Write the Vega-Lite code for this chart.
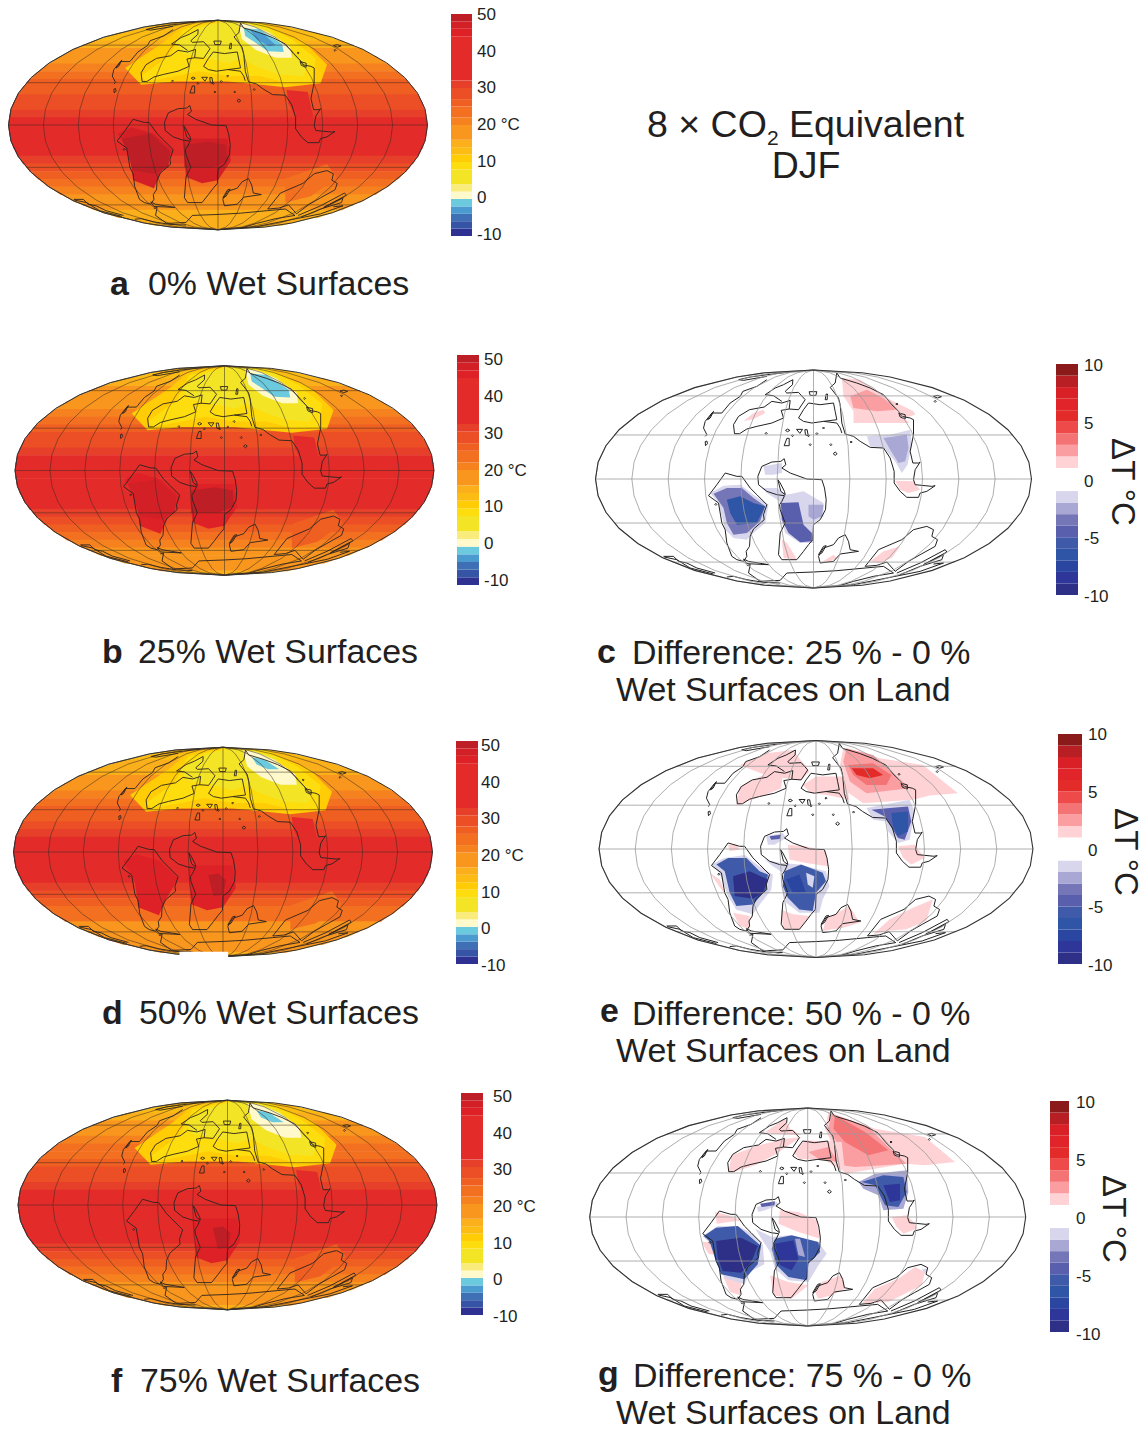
{"$schema":"https://vega.github.io/schema/vega-lite/v6.json","width":1143,"height":1430,"padding":0,"autosize":{"type":"fit","contains":"padding"},"background":"white",
"config":{"view":{"stroke":null},"axis":{"disable":true},"legend":{"disable":true},"font":"Liberation Sans","text":{"align":"left","baseline":"middle","color":"#231F20","fontSize":17},"geoshape":{"strokeWidth":0}},
"resolve":{"scale":{"x":"independent","y":"independent"}},
"datasets":{
"bands":[
{"a":13,"b":13,"d":13,"f":13,"g":{"type":"Polygon","coordinates":[[[670,31],[805,38],[866,46],[866,48],[474,48],[474,46],[535,38],[670,31]]]}},
{"a":13,"b":13,"d":13,"f":13,"g":{"type":"Polygon","coordinates":[[[474,46],[866,46],[980,72],[360,72],[474,46]]]}},
{"a":13,"b":15,"d":15,"f":15,"g":{"type":"Polygon","coordinates":[[[360,70],[980,70],[1056,96],[284,96],[360,70]]]}},
{"a":15,"b":16,"d":15,"f":16,"g":{"type":"Polygon","coordinates":[[[284,94],[1056,94],[1114,120],[226,120],[284,94]]]}},
{"a":16,"b":18,"d":17,"f":18,"g":{"type":"Polygon","coordinates":[[[226,118],[1114,118],[1161,144],[179,144],[226,118]]]}},
{"a":19,"b":19,"d":19,"f":21,"g":{"type":"Polygon","coordinates":[[[179,142],[1161,142],[1199,168],[141,168],[179,142]]]}},
{"a":21,"b":21,"d":21,"f":23,"g":{"type":"Polygon","coordinates":[[[141,166],[1199,166],[1231,192],[109,192],[141,166]]]}},
{"a":23,"b":24,"d":23,"f":24,"g":{"type":"Polygon","coordinates":[[[109,190],[1231,190],[1257,216],[83,216],[109,190]]]}},
{"a":26,"b":26,"d":26,"f":26,"g":{"type":"Polygon","coordinates":[[[83,214],[1257,214],[1278,240],[62,240],[83,214]]]}},
{"a":26,"b":28,"d":26,"f":28,"g":{"type":"Polygon","coordinates":[[[62,238],[1278,238],[1295,264],[45,264],[62,238]]]}},
{"a":28,"b":28,"d":28,"f":28,"g":{"type":"Polygon","coordinates":[[[45,262],[1295,262],[1308,288],[32,288],[45,262]]]}},
{"a":28,"b":31,"d":31,"f":31,"g":{"type":"Polygon","coordinates":[[[32,286],[1308,286],[1317,312],[23,312],[32,286]]]}},
{"a":31,"b":33,"d":33,"f":33,"g":{"type":"Polygon","coordinates":[[[23,310],[1317,310],[1322,336],[18,336],[23,310]]]}},
{"a":33,"b":35,"d":35,"f":35,"g":{"type":"Polygon","coordinates":[[[18,334],[1322,334],[1324,360],[16,360],[18,334]]]}},
{"a":35,"b":35,"d":35,"f":35,"g":{"type":"Polygon","coordinates":[[[16,358],[1324,358],[1322,384],[18,384],[16,358]]]}},
{"a":35,"b":35,"d":35,"f":35,"g":{"type":"Polygon","coordinates":[[[18,382],[1322,382],[1317,408],[23,408],[18,382]]]}},
{"a":35,"b":35,"d":35,"f":35,"g":{"type":"Polygon","coordinates":[[[23,406],[1317,406],[1308,432],[32,432],[23,406]]]}},
{"a":33,"b":35,"d":33,"f":35,"g":{"type":"Polygon","coordinates":[[[32,430],[1308,430],[1295,456],[45,456],[32,430]]]}},
{"a":31,"b":33,"d":31,"f":33,"g":{"type":"Polygon","coordinates":[[[45,454],[1295,454],[1278,480],[62,480],[45,454]]]}},
{"a":28,"b":31,"d":28,"f":31,"g":{"type":"Polygon","coordinates":[[[62,478],[1278,478],[1257,504],[83,504],[62,478]]]}},
{"a":26,"b":28,"d":26,"f":28,"g":{"type":"Polygon","coordinates":[[[83,502],[1257,502],[1231,528],[109,528],[83,502]]]}},
{"a":24,"b":26,"d":24,"f":26,"g":{"type":"Polygon","coordinates":[[[109,526],[1231,526],[1199,552],[141,552],[109,526]]]}},
{"a":21,"b":24,"d":23,"f":24,"g":{"type":"Polygon","coordinates":[[[141,550],[1199,550],[1161,576],[179,576],[141,550]]]}},
{"a":18,"b":21,"d":19,"f":21,"g":{"type":"Polygon","coordinates":[[[179,574],[1161,574],[1114,600],[226,600],[179,574]]]}},
{"a":16,"b":18,"d":18,"f":18,"g":{"type":"Polygon","coordinates":[[[226,598],[1114,598],[1056,624],[284,624],[226,598]]]}},
{"a":15,"b":16,"d":16,"f":16,"g":{"type":"Polygon","coordinates":[[[284,622],[1056,622],[980,648],[360,648],[284,622]]]}},
{"a":15,"b":16,"d":16,"f":16,"g":{"type":"Polygon","coordinates":[[[360,646],[980,646],[866,672],[474,672],[360,646]]]}},
{"a":15,"b":15,"d":15,"f":15,"g":{"type":"Polygon","coordinates":[[[474,670],[866,670],[805,678],[670,685],[535,678],[474,670]]]}}
],
"blobs":[
{"a":24,"b":26,"d":24,"f":26,"g":{"type":"Polygon","coordinates":[[[880,525],[1010,480],[1040,520],[960,580],[880,600],[880,525]]]}},
{"a":46,"b":45,"d":45,"g":{"type":"Polygon","coordinates":[[[358,385],[400,365],[470,385],[530,440],[490,510],[470,555],[405,530],[395,450],[358,385]]]}},
{"a":46,"b":45,"d":45,"f":45,"g":{"type":"Polygon","coordinates":[[[560,400],[700,400],[710,470],[670,530],[620,540],[570,520],[560,400]]]}},
{"a":49,"b":47,"g":{"type":"Polygon","coordinates":[[[370,400],[460,385],[520,440],[515,490],[470,510],[405,500],[385,440],[370,400]]]}},
{"a":49,"b":49,"g":{"type":"Polygon","coordinates":[[[565,420],[640,410],[695,420],[700,470],[650,490],[565,490],[565,420]]]}},
{"d":48,"f":48,"g":{"type":"Polygon","coordinates":[[[624,430],[655,425],[680,445],[671,492],[640,495],[624,430]]]}},
{"a":33,"b":35,"d":33,"f":35,"g":{"type":"Polygon","coordinates":[[[884,249],[950,255],[967,332],[920,345],[890,290],[884,249]]]}},
{"a":11,"b":11,"d":11,"f":11,"g":{"type":"Polygon","coordinates":[[[380,180],[500,100],[560,50],[670,32],[810,42],[940,100],[1010,170],[990,228],[880,240],[700,222],[540,222],[430,232],[380,180]]]}},
{"a":9,"b":9,"d":9,"f":9,"g":{"type":"Polygon","coordinates":[[[430,205],[520,140],[560,60],[680,33],[800,40],[900,90],[975,150],[965,222],[880,225],[800,205],[700,205],[610,190],[540,205],[445,222],[430,205]]]}},
{"a":6,"b":6,"d":6,"f":6,"g":{"type":"Polygon","coordinates":[[[535,100],[610,55],[690,34],[760,40],[830,60],[880,110],[950,170],[935,205],[860,200],[790,175],[740,150],[700,165],[640,150],[560,135],[535,100]]]}},
{"a":1,"b":1,"d":1,"f":1,"g":{"type":"Polygon","coordinates":[[[733,41],[770,45],[830,70],[895,115],[900,148],[850,148],[790,125],[745,90],[733,41]]]}},
{"a":-1,"b":-1,"g":{"type":"Polygon","coordinates":[[[750,55],[800,60],[870,105],[875,130],[825,128],[785,100],[755,80],[750,55]]]}},
{"d":-1,"f":-1,"g":{"type":"Polygon","coordinates":[[[760,62],[800,70],[845,100],[810,100],[775,85],[760,62]]]}},
{"a":-3,"g":{"type":"Polygon","coordinates":[[[770,62],[810,72],[850,108],[830,112],[790,90],[770,62]]]}}
],
"coast":[
{"n":"west","g":{"type":"MultiLineString","coordinates":[[[405,340],[440,350],[455,350],[480,385],[500,405],[530,435],[520,465],[522,480],[490,508],[480,530],[478,560],[468,575],[470,590],[460,605],[440,600],[425,590],[410,550],[405,510],[395,490],[385,430],[355,408],[380,375],[405,340]]]}},
{"n":"central","g":{"type":"MultiLineString","coordinates":[[[503,350],[515,320],[545,307],[572,305],[582,297],[587,315],[575,325],[600,340],[650,358],[695,360],[703,385],[708,420],[706,450],[690,480],[670,495],[668,540],[655,555],[640,575],[620,600],[575,600],[565,585],[570,520],[585,490],[570,450],[568,435],[575,425],[583,408],[560,405],[530,395],[505,375],[503,350]],[[563,360],[572,395],[585,405],[583,395],[570,370],[563,360]]]}},
{"n":"north","g":{"type":"MultiLineString","coordinates":[[[433,222],[430,195],[445,170],[478,150],[522,142],[545,125],[575,130],[600,122],[597,148],[573,152],[580,175],[545,190],[500,200],[470,208],[448,222],[433,222]],[[575,125],[550,108],[525,105],[555,85],[580,75],[608,60],[607,75],[585,95],[590,100],[625,98],[645,120],[625,150],[597,148]],[[625,175],[640,150],[655,130],[690,135],[730,130],[735,155],[740,180],[700,185],[665,190],[640,185],[625,175]],[[700,185],[740,190],[750,205],[755,220]]]}},
{"n":"east","g":{"type":"MultiLineString","coordinates":[[[740,40],[750,55],[800,70],[840,85],[880,105],[905,135],[925,155],[935,170],[960,175],[970,180],[970,225],[960,275],[968,310],[985,310],[990,307],[975,330],[970,360],[975,375],[1025,380],[1035,378],[1010,395],[990,400],[985,413],[950,413],[930,395],[912,370],[912,335],[900,295],[880,265],[840,263],[810,245],[790,230],[765,223],[755,190],[750,135],[745,115],[720,83],[735,70],[740,40]]]}},
{"n":"strip","g":{"type":"MultiLineString","coordinates":[[[345,230],[350,225],[340,205],[345,185],[365,160],[395,160],[420,130],[450,110],[458,95],[500,80],[530,60]],[[352,180],[370,155],[360,175],[352,180]],[[445,60],[480,52],[530,45],[600,37]],[[447,60],[460,62],[530,50]]]}},
{"n":"south","g":{"type":"MultiLineString","coordinates":[[[220,590],[250,590],[265,605],[290,610],[320,625],[375,640]],[[222,592],[260,600],[300,625],[370,643]],[[410,652],[430,650],[470,660],[520,668],[570,670]],[[460,598],[475,605],[505,610],[535,615],[470,612],[460,598]],[[470,618],[480,615],[475,640],[510,665],[570,662],[590,640],[670,637],[740,633],[825,625],[880,620],[910,640],[850,650],[790,665],[740,680]],[[825,620],[865,570],[935,540],[970,510],[1010,500],[1030,510],[1025,530],[1042,540],[1035,560],[990,585],[955,605],[915,635],[890,607],[860,617],[825,620]],[[920,640],[990,610],[1065,570],[1070,577],[1000,615],[1060,585],[1055,600],[990,620],[930,645]],[[1030,613],[1060,610],[990,635],[790,675],[680,683]],[[690,610],[685,590],[700,565],[730,555],[745,535],[765,525],[775,545],[780,570],[805,575],[750,583],[730,605],[690,610]],[[685,585],[700,560],[708,558],[695,580],[685,585]]]}},
{"n":"islands","g":{"type":"MultiLineString","coordinates":[[[586,212],[592,208],[599,212],[592,216],[586,212]],[[619,209],[637,209],[629,221],[619,209]],[[644,210],[651,210],[654,228],[646,226],[644,210]],[[604,228],[607,225],[610,228],[607,231],[604,228]],[[582,258],[590,236],[597,236],[597,258],[582,258]],[[652,228],[655,225],[658,228],[655,231],[652,228]],[[657,255],[660,252],[663,255],[660,258],[657,255]],[[677,222],[680,219],[683,222],[680,225],[677,222]],[[697,205],[700,202],[703,205],[700,208],[697,205]],[[719,255],[722,252],[725,255],[722,258],[719,255]],[[729,282],[735,277],[741,282],[735,287],[729,282]],[[525,221],[528,218],[531,221],[528,224],[525,221]],[[374,434],[377,431],[380,434],[377,437],[374,434]],[[345,246],[350,244],[352,252],[346,258],[345,246]],[[657,96],[680,96],[677,107],[660,107],[657,96]],[[705,120],[708,103],[712,103],[711,120],[705,120]],[[1030,110],[1042,107],[1054,111],[1042,115],[1030,110]],[[1032,125],[1035,122],[1038,125],[1035,128],[1032,125]],[[780,247],[783,244],[786,247],[783,250],[780,247]],[[917,133],[920,130],[923,133],[920,136],[917,133]],[[926,160],[945,165],[945,178],[930,172],[926,160]]]}}
],
"dc":[
{"v":1.5,"g":{"type":"Polygon","coordinates":[[[755,55],[810,60],[890,115],[970,155],[975,165],[940,175],[960,190],[790,190],[790,155],[760,110],[755,55]]]}},
{"v":2.5,"g":{"type":"Polygon","coordinates":[[[780,110],[830,90],[880,115],[920,150],[860,155],[790,145],[780,110]]]}},
{"v":-1.5,"g":{"type":"Polygon","coordinates":[[[830,230],[900,225],[960,210],[965,255],[952,315],[935,340],[915,305],[880,265],[840,260],[830,230]]]}},
{"v":-2.5,"g":{"type":"Polygon","coordinates":[[[880,235],[950,225],[955,265],[945,305],[925,310],[900,270],[880,235]]]}},
{"v":1.5,"g":{"type":"Polygon","coordinates":[[[915,363],[970,365],[990,390],[955,400],[930,390],[915,363]]]}},
{"v":1.5,"g":{"type":"Polygon","coordinates":[[[840,605],[880,575],[930,560],[905,595],[865,610],[840,605]]]}},
{"v":1.5,"g":{"type":"Polygon","coordinates":[[[460,185],[490,160],[520,150],[525,160],[490,178],[460,185]]]}},
{"v":1.5,"g":{"type":"Polygon","coordinates":[[[575,540],[590,550],[615,590],[620,600],[580,595],[575,540]]]}},
{"v":1.5,"g":{"type":"Polygon","coordinates":[[[690,610],[730,585],[740,595],[710,610],[690,610]]]}},
{"v":-1.5,"g":{"type":"Polygon","coordinates":[[[360,400],[400,378],[450,375],[490,405],[535,435],[525,490],[490,520],[470,540],[430,535],[405,510],[395,470],[385,430],[360,400]]]}},
{"v":-3.5,"g":{"type":"Polygon","coordinates":[[[370,402],[410,385],[455,385],[490,415],[525,440],[510,485],[470,520],[430,525],[410,490],[400,445],[370,402]]]}},
{"v":-6.5,"g":{"type":"Polygon","coordinates":[[[410,420],[450,410],[490,430],[525,440],[500,490],[440,495],[420,460],[410,420]]]}},
{"v":-1.5,"g":{"type":"Polygon","coordinates":[[[515,385],[560,385],[590,405],[640,395],[700,430],[700,470],[670,490],[670,550],[630,550],[585,520],[570,470],[568,425],[530,400],[515,385]]]}},
{"v":-4.5,"g":{"type":"Polygon","coordinates":[[[572,430],[625,428],[640,495],[665,520],[665,545],[630,548],[595,520],[575,480],[572,430]]]}},
{"v":-3,"g":{"type":"Polygon","coordinates":[[[655,435],[700,435],[695,470],[670,480],[655,470],[655,435]]]}},
{"v":-1.5,"g":{"type":"Polygon","coordinates":[[[520,320],[575,310],[575,340],[550,345],[525,345],[520,320]]]}}
],
"de":[
{"v":1.5,"g":{"type":"Polygon","coordinates":[[[752,55],[862,85],[992,105],[1097,190],[1012,197],[962,210],[812,220],[762,185],[742,105],[752,55]]]}},
{"v":2.5,"g":{"type":"Polygon","coordinates":[[[762,55],[842,75],[887,115],[952,175],[822,190],[772,155],[752,95],[762,55]]]}},
{"v":3.5,"g":{"type":"Polygon","coordinates":[[[767,105],[842,100],[897,135],[882,165],[822,165],[782,135],[767,105]]]}},
{"v":5.5,"g":{"type":"Polygon","coordinates":[[[777,115],[842,115],[872,135],[832,145],[792,135],[777,115]]]}},
{"v":-2,"g":{"type":"Polygon","coordinates":[[[822,235],[952,210],[967,245],[952,330],[917,340],[887,305],[882,275],[842,270],[822,235]]]}},
{"v":-5,"g":{"type":"Polygon","coordinates":[[[837,240],[892,235],[947,230],[957,275],[937,330],[917,325],[892,285],[877,260],[837,240]]]}},
{"v":-7,"g":{"type":"Polygon","coordinates":[[[897,250],[947,245],[947,305],[917,320],[902,290],[897,250]]]}},
{"v":1.5,"g":{"type":"Polygon","coordinates":[[[917,350],[967,345],[997,385],[957,405],[932,385],[917,350]]]}},
{"v":1.5,"g":{"type":"Polygon","coordinates":[[[842,615],[892,570],[962,535],[1022,510],[1002,575],[942,600],[882,605],[842,615]]]}},
{"v":1.5,"g":{"type":"Polygon","coordinates":[[[690,605],[700,570],[770,530],[802,580],[752,595],[720,600],[690,605]]]}},
{"v":1.5,"g":{"type":"Polygon","coordinates":[[[430,226],[440,171],[510,136],[570,130],[565,176],[500,201],[430,226]]]}},
{"v":1.5,"g":{"type":"Polygon","coordinates":[[[440,105],[520,70],[600,60],[640,110],[650,125],[625,150],[530,140],[440,105]]]}},
{"v":1.5,"g":{"type":"Polygon","coordinates":[[[630,165],[670,140],[760,140],[770,210],[700,195],[655,190],[630,165]]]}},
{"v":1.5,"g":{"type":"Polygon","coordinates":[[[585,345],[640,350],[700,365],[705,410],[640,400],[590,390],[585,345]]]}},
{"v":1.5,"g":{"type":"Polygon","coordinates":[[[565,540],[600,555],[650,560],[620,600],[570,600],[565,540]]]}},
{"v":1.5,"g":{"type":"Polygon","coordinates":[[[420,550],[470,560],[470,600],[440,590],[420,550]]]}},
{"v":1.5,"g":{"type":"Polygon","coordinates":[[[350,430],[380,450],[400,500],[385,480],[350,430]]]}},
{"v":1.5,"g":{"type":"Polygon","coordinates":[[[405,345],[430,345],[440,360],[410,365],[405,345]]]}},
{"v":-1.5,"g":{"type":"Polygon","coordinates":[[[355,406],[390,386],[455,376],[500,411],[540,436],[535,481],[500,526],[480,555],[430,541],[405,501],[380,431],[355,406]]]}},
{"v":-5.5,"g":{"type":"Polygon","coordinates":[[[370,405],[405,385],[460,385],[500,425],[525,435],[520,480],[480,525],[430,530],[410,490],[395,425],[370,405]]]}},
{"v":-9.5,"g":{"type":"Polygon","coordinates":[[[420,440],[470,425],[525,450],[510,490],[480,508],[425,500],[420,440]]]}},
{"v":-1.5,"g":{"type":"Polygon","coordinates":[[[515,390],[565,400],[620,405],[700,425],[710,470],[690,510],[680,550],[620,550],[580,520],[565,470],[570,430],[540,410],[515,390]]]}},
{"v":-5.5,"g":{"type":"Polygon","coordinates":[[[575,425],[625,405],[690,430],[700,455],[670,490],[660,545],[620,540],[585,505],[570,470],[575,425]]]}},
{"v":-8,"g":{"type":"Polygon","coordinates":[[[580,450],[620,435],[640,490],[600,490],[580,450]]]}},
{"v":-2,"g":{"type":"Polygon","coordinates":[[[640,430],[665,440],[660,475],[645,465],[640,430]]]}},
{"v":-2,"g":{"type":"Polygon","coordinates":[[[520,320],[570,310],[580,325],[545,345],[525,345],[520,320]]]}},
{"v":-5,"g":{"type":"Polygon","coordinates":[[[530,320],[565,315],[560,328],[535,330],[530,320]]]}}
],
"dg":[
{"v":1.5,"g":{"type":"Polygon","coordinates":[[[732,43],[872,93],[1022,118],[1112,193],[1022,203],[962,198],[782,228],[762,183],[722,93],[732,43]]]}},
{"v":2.5,"g":{"type":"Polygon","coordinates":[[[742,48],[852,88],[922,158],[967,198],[812,208],[772,203],[762,143],[732,93],[742,48]]]}},
{"v":3.5,"g":{"type":"Polygon","coordinates":[[[752,53],[842,103],[912,158],[852,173],[782,133],[747,93],[752,53]]]}},
{"v":-2.5,"g":{"type":"Polygon","coordinates":[[[822,253],[872,228],[967,218],[972,283],[957,333],[897,338],[882,293],[837,273],[822,253]]]}},
{"v":-6,"g":{"type":"Polygon","coordinates":[[[832,253],[897,233],[957,238],[967,283],[942,328],[902,323],[872,263],[832,253]]]}},
{"v":-9,"g":{"type":"Polygon","coordinates":[[[897,263],[947,258],[947,308],[917,313],[897,263]]]}},
{"v":1.5,"g":{"type":"Polygon","coordinates":[[[922,358],[967,353],[992,378],[997,393],[957,408],[937,388],[922,358]]]}},
{"v":1.5,"g":{"type":"Polygon","coordinates":[[[832,618],[872,573],[942,543],[992,508],[1022,523],[1012,563],[912,613],[832,618]]]}},
{"v":-2,"g":{"type":"Polygon","coordinates":[[[1012,513],[1032,513],[1022,528],[1012,513]]]}},
{"v":1.5,"g":{"type":"Polygon","coordinates":[[[692,583],[712,553],[772,533],[782,573],[742,593],[702,603],[692,583]]]}},
{"v":1.5,"g":{"type":"Polygon","coordinates":[[[432,223],[442,173],[522,143],[602,123],[652,118],[612,143],[577,168],[512,203],[447,223],[432,223]]]}},
{"v":1.5,"g":{"type":"Polygon","coordinates":[[[542,103],[602,63],[617,93],[652,113],[562,108],[542,103]]]}},
{"v":1.5,"g":{"type":"Polygon","coordinates":[[[627,163],[662,128],[772,133],[782,223],[722,188],[642,183],[627,163]]]}},
{"v":2.5,"g":{"type":"Polygon","coordinates":[[[672,163],[732,148],[762,193],[702,183],[672,163]]]}},
{"v":1.5,"g":{"type":"Polygon","coordinates":[[[587,338],[642,343],[697,368],[707,423],[642,403],[582,378],[587,338]]]}},
{"v":1.5,"g":{"type":"Polygon","coordinates":[[[557,533],[612,553],[672,563],[622,603],[567,593],[557,533]]]}},
{"v":1.5,"g":{"type":"Polygon","coordinates":[[[417,538],[472,548],[467,593],[437,583],[417,538]]]}},
{"v":1.5,"g":{"type":"Polygon","coordinates":[[[392,343],[432,353],[472,368],[397,378],[392,343]]]}},
{"v":1.5,"g":{"type":"Polygon","coordinates":[[[352,433],[377,433],[397,473],[372,468],[352,433]]]}},
{"v":-1.5,"g":{"type":"Polygon","coordinates":[[[355,415],[400,385],[460,385],[500,405],[535,440],[540,500],[500,520],[480,560],[420,540],[390,480],[380,440],[355,415]]]}},
{"v":-6,"g":{"type":"Polygon","coordinates":[[[358,415],[395,390],[460,385],[495,415],[530,445],[520,500],[480,545],[410,530],[395,490],[375,430],[358,415]]]}},
{"v":-9.5,"g":{"type":"Polygon","coordinates":[[[395,430],[470,420],[520,445],[500,495],[470,525],[415,520],[400,480],[395,430]]]}},
{"v":-1.5,"g":{"type":"Polygon","coordinates":[[[512,393],[562,418],[612,413],[702,433],[727,468],[702,503],[672,553],[612,548],[572,513],[557,463],[512,393]]]}},
{"v":-6,"g":{"type":"Polygon","coordinates":[[[572,423],[622,413],[702,433],[707,463],[672,498],[667,548],[612,538],[577,503],[562,453],[572,423]]]}},
{"v":-9,"g":{"type":"Polygon","coordinates":[[[572,438],[627,428],[642,483],[622,518],[587,503],[572,438]]]}},
{"v":-3,"g":{"type":"Polygon","coordinates":[[[632,423],[647,423],[662,478],[642,473],[632,423]]]}},
{"v":-1.5,"g":{"type":"Polygon","coordinates":[[[517,328],[577,313],[582,323],[542,338],[522,343],[517,328]]]}},
{"v":-5,"g":{"type":"Polygon","coordinates":[[[527,318],[572,311],[570,323],[532,328],[527,318]]]}},
{"v":-1,"g":{"type":"Polygon","coordinates":[[[642,678],[702,678],[692,663],[652,663],[642,678]]]}}
],
"abar":[{"lo":-10,"hi":-8,"v":-9},{"lo":-8,"hi":-6,"v":-7},{"lo":-6,"hi":-4,"v":-5},{"lo":-4,"hi":-2,"v":-3},{"lo":-2,"hi":0,"v":-1},{"lo":0,"hi":2,"v":1},{"lo":2,"hi":4,"v":3},{"lo":4,"hi":8,"v":6},{"lo":8,"hi":10,"v":9},{"lo":10,"hi":12,"v":11},{"lo":12,"hi":14,"v":13},{"lo":14,"hi":16,"v":15},{"lo":16,"hi":20,"v":18},{"lo":20,"hi":22,"v":21},{"lo":22,"hi":25,"v":23},{"lo":25,"hi":27,"v":26},{"lo":27,"hi":30,"v":28},{"lo":30,"hi":32,"v":31},{"lo":32,"hi":44,"v":38},{"lo":44,"hi":46,"v":45},{"lo":46,"hi":48,"v":47},{"lo":48,"hi":50,"v":49}],
"dbar":[{"lo":-10,"hi":-9,"v":-9.5},{"lo":-9,"hi":-8,"v":-8.5},{"lo":-8,"hi":-7,"v":-7.5},{"lo":-7,"hi":-6,"v":-6.5},{"lo":-6,"hi":-5,"v":-5.5},{"lo":-5,"hi":-4,"v":-4.5},{"lo":-4,"hi":-3,"v":-3.5},{"lo":-3,"hi":-2,"v":-2.5},{"lo":-2,"hi":-1,"v":-1.5},{"lo":-1,"hi":1,"v":0},{"lo":1,"hi":2,"v":1.5},{"lo":2,"hi":3,"v":2.5},{"lo":3,"hi":4,"v":3.5},{"lo":4,"hi":5,"v":4.5},{"lo":5,"hi":6,"v":5.5},{"lo":6,"hi":7,"v":6.5},{"lo":7,"hi":8,"v":7.5},{"lo":8,"hi":9,"v":8.5},{"lo":9,"hi":10,"v":9.5}],
"alab":[{"v":50,"l":"50"},{"v":40,"l":"40"},{"v":30,"l":"30"},{"v":20,"l":"20 °C"},{"v":10,"l":"10"},{"v":0,"l":"0"},{"v":-10,"l":"-10"}],
"dlab":[{"v":10,"l":"10"},{"v":5,"l":"5"},{"v":0,"l":"0"},{"v":-5,"l":"-5"},{"v":-10,"l":"-10"}]
},
"layer":[
{"projection":{"type":"identity","scale":0.3205,"translate":[3.3,10.3]},"layer":[
{"data":{"name":"bands"},"mark":"geoshape","encoding":{"shape":{"field":"g","type":"geojson"},"color":{"field":"a","type":"quantitative","scale":{"type":"threshold","domain":[-8,-6,-4,-2,0,2,4,8,10,12,14,16,20,22,25,27,30,32,44,46,48],"range":["#2E3192","#3654A5","#3F6FB5","#4B9BD0","#6CCADF","#FFF9CC","#FAEC7C","#F3E526","#FEDD0E","#FFCC05","#FDBC14","#FBAF1A","#F9961D","#F5821F","#F37021","#F05F22","#EC4F25","#E7402A","#E32B2A","#DE2127","#D32027","#BE1E26"]}}}},
{"data":{"name":"blobs"},"transform":[{"filter":"isValid(datum.a)"}],"mark":"geoshape","encoding":{"shape":{"field":"g","type":"geojson"},"color":{"field":"a","type":"quantitative","scale":{"type":"threshold"}}}},
{"data":{"name":"coast"},"mark":{"type":"geoshape","filled":false,"stroke":"#2b2320","strokeWidth":0.9},"encoding":{"shape":{"field":"g","type":"geojson"}}}]},
{"projection":{"type":"mollweide","scale":74.07,"translate":[218,125]},"layer":[
{"data":{"graticule":{"extent":[[-180,-90],[180,90]],"step":[30,30]}},"mark":{"type":"geoshape","filled":false,"stroke":"#3a2a20","strokeOpacity":0.65,"strokeWidth":0.8}},
{"data":{"sphere":true},"mark":{"type":"geoshape","filled":false,"stroke":"#333","strokeWidth":1}}]},

{"projection":{"type":"identity","scale":0.3205,"translate":[9.8,355.8]},"layer":[
{"data":{"name":"bands"},"mark":"geoshape","encoding":{"shape":{"field":"g","type":"geojson"},"color":{"field":"b","type":"quantitative","scale":{"type":"threshold"}}}},
{"data":{"name":"blobs"},"transform":[{"filter":"isValid(datum.b)"}],"mark":"geoshape","encoding":{"shape":{"field":"g","type":"geojson"},"color":{"field":"b","type":"quantitative","scale":{"type":"threshold"}}}},
{"data":{"name":"coast"},"mark":{"type":"geoshape","filled":false,"stroke":"#2b2320","strokeWidth":0.9},"encoding":{"shape":{"field":"g","type":"geojson"}}}]},
{"projection":{"type":"mollweide","scale":74.07,"translate":[224.5,470.5]},"layer":[
{"data":{"graticule":{"extent":[[-180,-90],[180,90]],"step":[30,30]}},"mark":{"type":"geoshape","filled":false,"stroke":"#3a2a20","strokeOpacity":0.65,"strokeWidth":0.8}},
{"data":{"sphere":true},"mark":{"type":"geoshape","filled":false,"stroke":"#333","strokeWidth":1}}]},

{"projection":{"type":"identity","scale":0.3205,"translate":[8.3,737.3]},"layer":[
{"data":{"name":"bands"},"mark":"geoshape","encoding":{"shape":{"field":"g","type":"geojson"},"color":{"field":"d","type":"quantitative","scale":{"type":"threshold"}}}},
{"data":{"name":"blobs"},"transform":[{"filter":"isValid(datum.d)"}],"mark":"geoshape","encoding":{"shape":{"field":"g","type":"geojson"},"color":{"field":"d","type":"quantitative","scale":{"type":"threshold"}}}},
{"data":{"name":"coast"},"mark":{"type":"geoshape","filled":false,"stroke":"#2b2320","strokeWidth":0.9},"encoding":{"shape":{"field":"g","type":"geojson"}}}]},
{"projection":{"type":"mollweide","scale":74.07,"translate":[223,852]},"layer":[
{"data":{"graticule":{"extent":[[-180,-90],[180,90]],"step":[30,30]}},"mark":{"type":"geoshape","filled":false,"stroke":"#3a2a20","strokeOpacity":0.65,"strokeWidth":0.8}},
{"data":{"sphere":true},"mark":{"type":"geoshape","filled":false,"stroke":"#333","strokeWidth":1}}]},
{"projection":{"type":"identity","scale":0.3205,"translate":[8.3,737.3]},"data":{"values":[{"g":{"type":"Polygon","coordinates":[[[534,669],[686,669],[686,702],[534,702],[534,669]]]}}]},"mark":{"type":"geoshape","fill":"white"},"encoding":{"shape":{"field":"g","type":"geojson"}}},

{"projection":{"type":"identity","scale":0.3205,"translate":[12.8,1090.3]},"layer":[
{"data":{"name":"bands"},"mark":"geoshape","encoding":{"shape":{"field":"g","type":"geojson"},"color":{"field":"f","type":"quantitative","scale":{"type":"threshold"}}}},
{"data":{"name":"blobs"},"transform":[{"filter":"isValid(datum.f)"}],"mark":"geoshape","encoding":{"shape":{"field":"g","type":"geojson"},"color":{"field":"f","type":"quantitative","scale":{"type":"threshold"}}}},
{"data":{"name":"coast"},"mark":{"type":"geoshape","filled":false,"stroke":"#2b2320","strokeWidth":0.9},"encoding":{"shape":{"field":"g","type":"geojson"}}}]},
{"projection":{"type":"mollweide","scale":74.07,"translate":[227.5,1205]},"layer":[
{"data":{"graticule":{"extent":[[-180,-90],[180,90]],"step":[30,30]}},"mark":{"type":"geoshape","filled":false,"stroke":"#3a2a20","strokeOpacity":0.65,"strokeWidth":0.8}},
{"data":{"sphere":true},"mark":{"type":"geoshape","filled":false,"stroke":"#333","strokeWidth":1}}]},

{"projection":{"type":"identity","scale":0.3333,"translate":[590.2,359.7]},"layer":[
{"data":{"name":"dc"},"mark":"geoshape","encoding":{"shape":{"field":"g","type":"geojson"},"fill":{"field":"v","type":"quantitative","scale":{"type":"threshold","domain":[-9,-8,-7,-6,-5,-4,-3,-2,-1,1,2,3,4,5,6,7,8,9],"range":["#2E2F87","#2E3699","#2B46A0","#2F55A6","#3F5AA9","#5A5FAD","#7476B8","#A9A7D3","#D7D6EC","#FFFFFF","#FFD2D6","#FA9EA2","#F47475","#EF4A4A","#E32B2A","#E0242A","#D92027","#B71F24","#8B1A1A"]}}}},
{"data":{"name":"coast"},"mark":{"type":"geoshape","filled":false,"stroke":"#222","strokeWidth":1},"encoding":{"shape":{"field":"g","type":"geojson"}}}]},
{"projection":{"type":"mollweide","scale":77.07,"translate":[813.5,479]},"layer":[
{"data":{"graticule":{"extent":[[-180,-90],[180,90]],"step":[30,30]}},"mark":{"type":"geoshape","filled":false,"stroke":"#999","strokeWidth":0.8}},
{"data":{"sphere":true},"mark":{"type":"geoshape","filled":false,"stroke":"#333","strokeWidth":1.1}}]},

{"projection":{"type":"identity","scale":0.332,"translate":[593.6,730.1]},"layer":[
{"data":{"name":"de"},"mark":"geoshape","encoding":{"shape":{"field":"g","type":"geojson"},"fill":{"field":"v","type":"quantitative","scale":{"type":"threshold"}}}},
{"data":{"name":"coast"},"mark":{"type":"geoshape","filled":false,"stroke":"#222","strokeWidth":1},"encoding":{"shape":{"field":"g","type":"geojson"}}}]},
{"projection":{"type":"mollweide","scale":76.7,"translate":[816,849]},"layer":[
{"data":{"graticule":{"extent":[[-180,-90],[180,90]],"step":[30,30]}},"mark":{"type":"geoshape","filled":false,"stroke":"#999","strokeWidth":0.8}},
{"data":{"sphere":true},"mark":{"type":"geoshape","filled":false,"stroke":"#333","strokeWidth":1.1}}]},

{"projection":{"type":"identity","scale":0.3333,"translate":[584.4,1097.7]},"layer":[
{"data":{"name":"dg"},"mark":"geoshape","encoding":{"shape":{"field":"g","type":"geojson"},"fill":{"field":"v","type":"quantitative","scale":{"type":"threshold"}}}},
{"data":{"name":"coast"},"mark":{"type":"geoshape","filled":false,"stroke":"#222","strokeWidth":1},"encoding":{"shape":{"field":"g","type":"geojson"}}}]},
{"projection":{"type":"mollweide","scale":77.07,"translate":[807.7,1217]},"layer":[
{"data":{"graticule":{"extent":[[-180,-90],[180,90]],"step":[30,30]}},"mark":{"type":"geoshape","filled":false,"stroke":"#999","strokeWidth":0.8}},
{"data":{"sphere":true},"mark":{"type":"geoshape","filled":false,"stroke":"#333","strokeWidth":1.1}}]},

{"data":{"name":"abar"},"mark":"rect","encoding":{"x":{"datum":0,"scale":{"domain":[0,1],"range":[451,472]}},"x2":{"datum":1},"y":{"field":"lo","type":"quantitative","scale":{"domain":[-10,50],"range":[236,14]}},"y2":{"field":"hi"},"color":{"field":"v","type":"quantitative","scale":{"type":"threshold"}}}},
{"data":{"name":"abar"},"mark":"rect","encoding":{"x":{"datum":0,"scale":{"domain":[0,1],"range":[457,479]}},"x2":{"datum":1},"y":{"field":"lo","type":"quantitative","scale":{"domain":[-10,50],"range":[585,355]}},"y2":{"field":"hi"},"color":{"field":"v","type":"quantitative","scale":{"type":"threshold"}}}},
{"data":{"name":"abar"},"mark":"rect","encoding":{"x":{"datum":0,"scale":{"domain":[0,1],"range":[456,478]}},"x2":{"datum":1},"y":{"field":"lo","type":"quantitative","scale":{"domain":[-10,50],"range":[964,741]}},"y2":{"field":"hi"},"color":{"field":"v","type":"quantitative","scale":{"type":"threshold"}}}},
{"data":{"name":"abar"},"mark":"rect","encoding":{"x":{"datum":0,"scale":{"domain":[0,1],"range":[461,483]}},"x2":{"datum":1},"y":{"field":"lo","type":"quantitative","scale":{"domain":[-10,50],"range":[1315,1093]}},"y2":{"field":"hi"},"color":{"field":"v","type":"quantitative","scale":{"type":"threshold"}}}},
{"data":{"name":"dbar"},"mark":"rect","encoding":{"x":{"datum":0,"scale":{"domain":[0,1],"range":[1056,1078]}},"x2":{"datum":1},"y":{"field":"lo","type":"quantitative","scale":{"domain":[-10,10],"range":[595,364]}},"y2":{"field":"hi"},"fill":{"field":"v","type":"quantitative","scale":{"type":"threshold"}}}},
{"data":{"name":"dbar"},"mark":"rect","encoding":{"x":{"datum":0,"scale":{"domain":[0,1],"range":[1058,1082]}},"x2":{"datum":1},"y":{"field":"lo","type":"quantitative","scale":{"domain":[-10,10],"range":[964,734]}},"y2":{"field":"hi"},"fill":{"field":"v","type":"quantitative","scale":{"type":"threshold"}}}},
{"data":{"name":"dbar"},"mark":"rect","encoding":{"x":{"datum":0,"scale":{"domain":[0,1],"range":[1050,1069]}},"x2":{"datum":1},"y":{"field":"lo","type":"quantitative","scale":{"domain":[-10,10],"range":[1332,1101]}},"y2":{"field":"hi"},"fill":{"field":"v","type":"quantitative","scale":{"type":"threshold"}}}},

{"data":{"name":"alab"},"mark":"text","encoding":{"x":{"datum":0,"scale":{"domain":[0,1],"range":[477,530]}},"y":{"field":"v","type":"quantitative","scale":{"domain":[-10,50],"range":[235,15]}},"text":{"field":"l"}}},
{"data":{"name":"alab"},"mark":"text","encoding":{"x":{"datum":0,"scale":{"domain":[0,1],"range":[484,530]}},"y":{"field":"v","type":"quantitative","scale":{"domain":[-10,50],"range":[581,360]}},"text":{"field":"l"}}},
{"data":{"name":"alab"},"mark":"text","encoding":{"x":{"datum":0,"scale":{"domain":[0,1],"range":[481,530]}},"y":{"field":"v","type":"quantitative","scale":{"domain":[-10,50],"range":[966,746]}},"text":{"field":"l"}}},
{"data":{"name":"alab"},"mark":"text","encoding":{"x":{"datum":0,"scale":{"domain":[0,1],"range":[493,540]}},"y":{"field":"v","type":"quantitative","scale":{"domain":[-10,50],"range":[1317,1097]}},"text":{"field":"l"}}},
{"data":{"name":"dlab"},"mark":"text","encoding":{"x":{"datum":0,"scale":{"domain":[0,1],"range":[1084,1110]}},"y":{"field":"v","type":"quantitative","scale":{"domain":[-10,10],"range":[597,366]}},"text":{"field":"l"}}},
{"data":{"name":"dlab"},"mark":"text","encoding":{"x":{"datum":0,"scale":{"domain":[0,1],"range":[1088,1110]}},"y":{"field":"v","type":"quantitative","scale":{"domain":[-10,10],"range":[966,735]}},"text":{"field":"l"}}},
{"data":{"name":"dlab"},"mark":"text","encoding":{"x":{"datum":0,"scale":{"domain":[0,1],"range":[1076,1100]}},"y":{"field":"v","type":"quantitative","scale":{"domain":[-10,10],"range":[1335,1103]}},"text":{"field":"l"}}},

{"data":{"values":[{"c":1}]},"layer":[
{"mark":{"type":"text","fontSize":33.9,"fontWeight":"bold"},"encoding":{"x":{"datum":110,"scale":{"domain":[0,1143],"range":[0,1143],"nice":false}},"y":{"datum":285,"scale":{"domain":[0,1430],"range":[0,1430],"nice":false}},"text":{"value":"a"}}},
{"mark":{"type":"text","fontSize":33.9},"encoding":{"x":{"datum":148},"y":{"datum":285},"text":{"value":"0% Wet Surfaces"}}},
{"mark":{"type":"text","fontSize":33.9,"fontWeight":"bold"},"encoding":{"x":{"datum":102},"y":{"datum":653},"text":{"value":"b"}}},
{"mark":{"type":"text","fontSize":33.9},"encoding":{"x":{"datum":138},"y":{"datum":653},"text":{"value":"25% Wet Surfaces"}}},
{"mark":{"type":"text","fontSize":33.9,"fontWeight":"bold"},"encoding":{"x":{"datum":597},"y":{"datum":653},"text":{"value":"c"}}},
{"mark":{"type":"text","fontSize":33.9},"encoding":{"x":{"datum":632},"y":{"datum":654},"text":{"value":"Difference: 25 % - 0 %"}}},
{"mark":{"type":"text","fontSize":33.9},"encoding":{"x":{"datum":616},"y":{"datum":691},"text":{"value":"Wet Surfaces on Land"}}},
{"mark":{"type":"text","fontSize":33.9,"fontWeight":"bold"},"encoding":{"x":{"datum":102},"y":{"datum":1014},"text":{"value":"d"}}},
{"mark":{"type":"text","fontSize":33.9},"encoding":{"x":{"datum":139},"y":{"datum":1014},"text":{"value":"50% Wet Surfaces"}}},
{"mark":{"type":"text","fontSize":33.9,"fontWeight":"bold"},"encoding":{"x":{"datum":600},"y":{"datum":1012},"text":{"value":"e"}}},
{"mark":{"type":"text","fontSize":33.9},"encoding":{"x":{"datum":632},"y":{"datum":1015},"text":{"value":"Difference: 50 % - 0 %"}}},
{"mark":{"type":"text","fontSize":33.9},"encoding":{"x":{"datum":616},"y":{"datum":1052},"text":{"value":"Wet Surfaces on Land"}}},
{"mark":{"type":"text","fontSize":33.9,"fontWeight":"bold"},"encoding":{"x":{"datum":111},"y":{"datum":1382},"text":{"value":"f"}}},
{"mark":{"type":"text","fontSize":33.9},"encoding":{"x":{"datum":140},"y":{"datum":1382},"text":{"value":"75% Wet Surfaces"}}},
{"mark":{"type":"text","fontSize":33.9,"fontWeight":"bold"},"encoding":{"x":{"datum":598},"y":{"datum":1375},"text":{"value":"g"}}},
{"mark":{"type":"text","fontSize":33.9},"encoding":{"x":{"datum":633},"y":{"datum":1377},"text":{"value":"Difference: 75 % - 0 %"}}},
{"mark":{"type":"text","fontSize":33.9},"encoding":{"x":{"datum":616},"y":{"datum":1414},"text":{"value":"Wet Surfaces on Land"}}},
{"mark":{"type":"text","fontSize":37.5},"encoding":{"x":{"datum":647},"y":{"datum":126},"text":{"value":"8 × CO"}}},
{"mark":{"type":"text","fontSize":21},"encoding":{"x":{"datum":767},"y":{"datum":139},"text":{"value":"2"}}},
{"mark":{"type":"text","fontSize":37.5},"encoding":{"x":{"datum":789},"y":{"datum":126},"text":{"value":"Equivalent"}}},
{"mark":{"type":"text","fontSize":37.5,"align":"center"},"encoding":{"x":{"datum":806},"y":{"datum":167},"text":{"value":"DJF"}}},
{"mark":{"type":"text","fontSize":33,"align":"center","angle":90},"encoding":{"x":{"datum":1122},"y":{"datum":482},"text":{"value":"ΔT °C"}}},
{"mark":{"type":"text","fontSize":33,"align":"center","angle":90},"encoding":{"x":{"datum":1125},"y":{"datum":852},"text":{"value":"ΔT °C"}}},
{"mark":{"type":"text","fontSize":33,"align":"center","angle":90},"encoding":{"x":{"datum":1113},"y":{"datum":1219},"text":{"value":"ΔT °C"}}}
]}
]}
